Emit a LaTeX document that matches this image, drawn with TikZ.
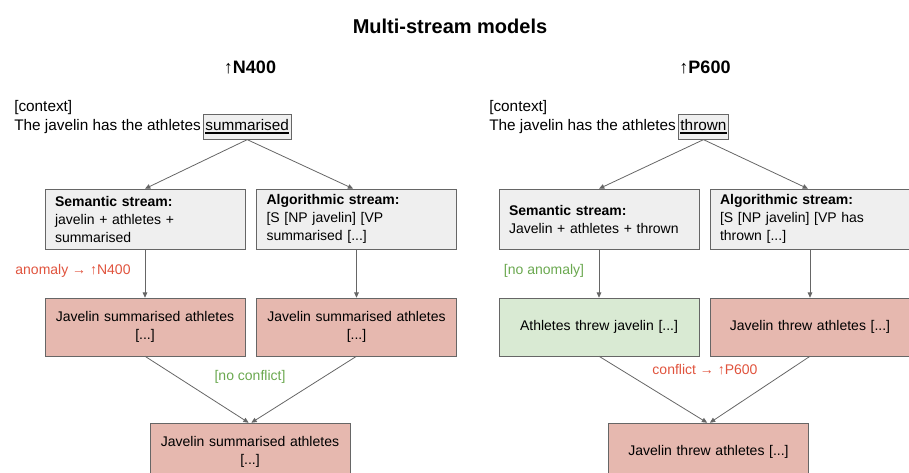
\documentclass[tikz,border=0pt]{standalone}
\usepackage{fontspec}
\setmainfont{Liberation Sans}
\usetikzlibrary{positioning,arrows.meta}
\definecolor{boxgray}{HTML}{EFEFEF}
\definecolor{linegray}{HTML}{666666}
\definecolor{redfill}{HTML}{E6B8AF}
\definecolor{greenfill}{HTML}{D9EAD3}
\definecolor{anomred}{HTML}{E0533D}
\definecolor{okgreen}{HTML}{6AA84F}
\newcommand{\ulword}[1]{\setbox0\hbox{#1}\rlap{\rule[-2.2pt]{\wd0}{1.1pt}}#1}

\begin{document}
\begin{tikzpicture}[x=0.75pt,y=-0.75pt,font=\fontsize{10.5}{13.5}\selectfont,
    ctxtext/.style={anchor=west, inner sep=0pt, font=\fontsize{11.5}{14}\selectfont},
    streambox/.style={draw=linegray, fill=boxgray, text width=135pt, inner xsep=7.5pt, minimum height=45pt, align=left},
    outbox/.style={draw=linegray, text width=135pt, inner xsep=7.5pt, minimum height=43.5pt, align=center},
    wordbox/.style={draw=linegray, fill=boxgray, inner sep=1.5pt, minimum height=18.75pt, font=\fontsize{11.5}{14}\selectfont},
    conn/.style={draw=linegray, line width=0.6pt, -{Triangle[length=4pt,width=3.5pt]}}]
    \useasboundingbox (0,0) rectangle (909,473);
    \node (title) at (450,26) {\fontsize{15}{18}\selectfont\bfseries Multi-stream models};

    % N400 side
    \node (headA) at (250,67) {\fontsize{13.5}{16}\selectfont\bfseries ↑N400};
    \node[ctxtext] (ctxA) at (14,108) {[context]};
    \node[ctxtext] (sentA) at (14,127) {The javelin has the athletes};
    \node[wordbox, anchor=base west] (wordA) at ([xshift=1.5pt]sentA.base east) {\ulword{summarised}};
    \node[streambox] (semA) at (145,219) {\textbf{Semantic stream:}\\javelin + athletes +\\summarised};
    \node[streambox] (algA) at (356.5,219) {\textbf{Algorithmic stream:}\\{[S [NP javelin] [VP}\\summarised [...]};
    \node[outbox, fill=redfill] (outA1) at (145,327) {Javelin summarised athletes\\{[...]}};
    \node[outbox, fill=redfill] (outA2) at (356.5,327) {Javelin summarised athletes\\{[...]}};
    \node[outbox, fill=redfill] (finA) at (250,452) {Javelin summarised athletes\\{[...]}};
    \node[text=anomred] (labA1) at (73,271) {anomaly → ↑N400};
    \node[text=okgreen] (labA2) at (250,377) {[no conflict]};
    \draw[conn] (wordA.south) -- (semA.north);
    \draw[conn] (wordA.south) -- ([xshift=-2.5pt]algA.north);
    \draw[conn] (semA) -- (outA1);
    \draw[conn] (algA) -- (outA2);
    \draw[conn] (outA1.south) -- ([xshift=-1pt]finA.north);
    \draw[conn] (outA2.south) -- ([xshift=1pt]finA.north);

    % P600 side
    \node (headB) at (705,67) {\fontsize{13.5}{16}\selectfont\bfseries ↑P600};
    \node[ctxtext] (ctxB) at (489,108) {[context]};
    \node[ctxtext] (sentB) at (489,127) {The javelin has the athletes};
    \node[wordbox, anchor=base west] (wordB) at ([xshift=1.5pt]sentB.base east) {\ulword{thrown}};
    \node[streambox] (semB) at (599,219) {\textbf{Semantic stream:}\\Javelin + athletes + thrown};
    \node[streambox] (algB) at (810,219) {\textbf{Algorithmic stream:}\\{[S [NP javelin] [VP has}\\thrown [...]};
    \node[outbox, fill=greenfill] (outB1) at (599,327) {Athletes threw javelin [...]};
    \node[outbox, fill=redfill] (outB2) at (810,327) {Javelin threw athletes [...]};
    \node[outbox, fill=redfill] (finB) at (708.5,452) {Javelin threw athletes [...]};
    \node[text=okgreen] (labB1) at (544,271) {[no anomaly]};
    \node[text=anomred] (labB2) at (705,370) {conflict → ↑P600};
    \draw[conn] (wordB.south) -- (semB.north);
    \draw[conn] (wordB.south) -- ([xshift=-1.5pt]algB.north);
    \draw[conn] (semB) -- (outB1);
    \draw[conn] (algB) -- (outB2);
    \draw[conn] (outB1.south) -- ([xshift=-1pt]finB.north);
    \draw[conn] (outB2.south) -- ([xshift=1pt]finB.north);
\end{tikzpicture}
\end{document}
